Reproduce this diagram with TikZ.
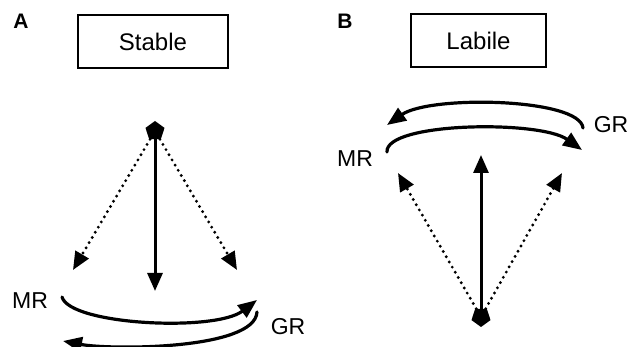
\documentclass[tikz,border=0pt]{standalone}
\usepackage{fontspec}
\setmainfont{Liberation Sans}
\usetikzlibrary{arrows.meta,shapes.geometric}
\tikzset{
  panel/.style={font=\fontsize{21}{24}\selectfont\bfseries,inner sep=0pt},
  statebox/.style={draw,line width=1.2pt,minimum height=53pt,inner sep=0pt,font=\fontsize{24}{27}\selectfont},
  rec/.style={font=\fontsize{23}{25}\selectfont,inner sep=0pt},
  pent/.style={regular polygon,regular polygon sides=5,fill,inner sep=0pt,minimum size=20pt},
  sol/.style={line width=3pt,-{Triangle[length=18pt,width=15pt]}},
  dots/.style={line width=3.2pt,dash pattern=on 0pt off 6pt,line cap=round,-{Triangle[length=18pt,width=15pt]}},
  swing/.style={line width=3.2pt,line cap=round,-{Triangle[length=19pt,width=15pt]}}
}
\begin{document}
\begin{tikzpicture}[x=1pt,y=-1pt]
\useasboundingbox (0,0) rectangle (630,347);
% A: stable
\node[panel] (lblA) at (21,21.5) {A};
\node[statebox,minimum width=150pt] (stable) at (153,41.5) {Stable};
\node[pent] (pA) at (155,131) {};
\coordinate (mA) at (73,270);
\coordinate (gA) at (237,270);
\coordinate (vA) at (155,291);
\draw[dots] (pA) -- (mA);
\draw[dots] (pA) -- (gA);
\draw[sol] (pA) -- (vA);
\node[rec] (mrA) at (30,301) {MR};
\node[rec] (grA) at (288,326.5) {GR};
\coordinate (mA1) at (62,297);
\coordinate (gA1) at (257,300);
\coordinate (gA2) at (257,312);
\coordinate (mA2) at (63,341);
\draw[swing] (mA1) .. controls (70,325) and (215,332) .. (gA1);
\draw[swing] (gA2) .. controls (255,350) and (110,350) .. (mA2);
% B: labile
\node[panel] (lblB) at (345,21.5) {B};
\node[statebox,minimum width=135pt] (labile) at (478.5,40.5) {Labile};
\node[pent,shape border rotate=180] (pB) at (481,317) {};
\coordinate (mB) at (398,173);
\coordinate (gB) at (562,173);
\coordinate (vB) at (481,155);
\draw[dots] (pB) -- (mB);
\draw[dots] (pB) -- (gB);
\draw[sol] (pB) -- (vB);
\node[rec] (mrB) at (355,158.5) {MR};
\node[rec] (grB) at (611,125) {GR};
\coordinate (gB1) at (583,128);
\coordinate (mB1) at (387,125);
\coordinate (mB2) at (387,152);
\coordinate (gB2) at (582,150);
\draw[swing] (gB1) .. controls (580,98) and (430,95) .. (mB1);
\draw[swing] (mB2) .. controls (385,122) and (540,120) .. (gB2);
\end{tikzpicture}
\end{document}
